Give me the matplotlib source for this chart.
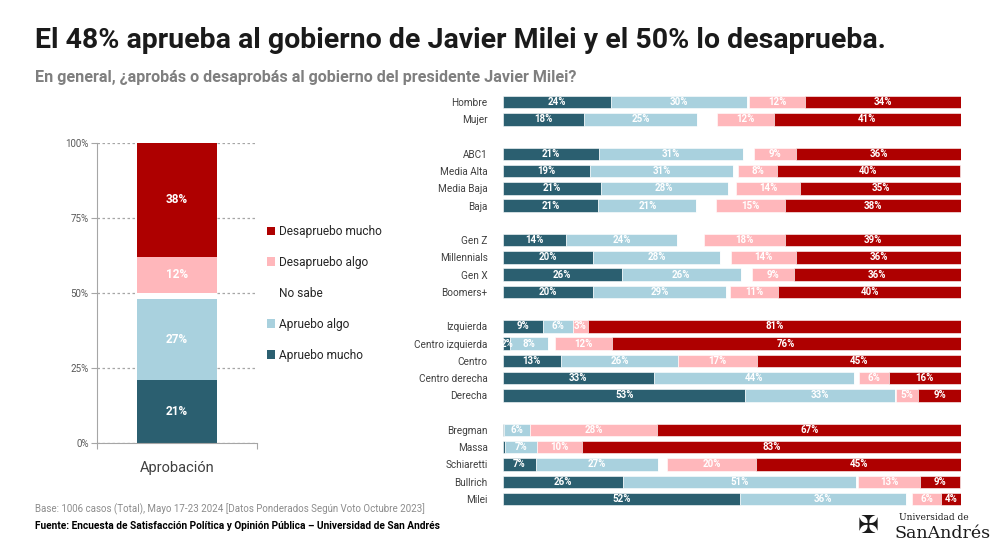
import matplotlib.pyplot as plt
import numpy as np

plt.rcParams['font.family'] = ['Roboto', 'DejaVu Sans']

# colours
C_AM = '#2b5f70'   # apruebo mucho
C_AA = '#a9d1de'   # apruebo algo
C_NS = '#ffffff'   # no sabe
C_DA = '#ffb7bb'   # desapruebo algo
C_DM = '#ae0000'   # desapruebo mucho

series = ['Apruebo mucho', 'Apruebo algo', 'No sabe', 'Desapruebo algo', 'Desapruebo mucho']
colors = [C_AM, C_AA, C_NS, C_DA, C_DM]

# total
total = [21, 27, 2, 12, 38]

# groups of rows (right chart)
groups = [
    ['Hombre', 'Mujer'],
    ['ABC1', 'Media Alta', 'Media Baja', 'Baja'],
    ['Gen Z', 'Millennials', 'Gen X', 'Boomers+'],
    ['Izquierda', 'Centro izquierda', 'Centro', 'Centro derecha', 'Derecha'],
    ['Bregman', 'Massa', 'Schiaretti', 'Bullrich', 'Milei'],
]
apruebo_mucho = [23.6, 17.7, 20.9, 19.0, 21.3, 20.8, 13.7, 19.7, 25.9, 19.6,
                 8.8, 1.6, 12.6, 32.9, 52.9, 0.3, 0.5, 7.1, 26.1, 51.7]
apruebo_algo = [29.6, 24.7, 31.4, 31.3, 27.8, 21.4, 24.3, 27.6, 26.0, 29.1,
                6.4, 8.2, 25.6, 43.8, 32.6, 5.6, 6.9, 26.7, 51.0, 36.4]
no_sabe = [0.6, 4.3, 2.4, 1.1, 1.8, 4.3, 5.9, 2.5, 2.5, 0.8,
           0.0, 1.6, 0.0, 1.1, 0.3, 0.0, 0.0, 1.9, 0.5, 1.2]
desapruebo_algo = [12.1, 12.4, 9.3, 8.4, 14.0, 15.0, 17.6, 14.2, 9.1, 10.6,
                   3.3, 12.3, 17.2, 6.4, 4.9, 27.8, 9.8, 19.6, 13.4, 6.3]
desapruebo_mucho = [34.2, 40.9, 36.0, 39.9, 35.1, 38.4, 38.6, 36.0, 36.4, 39.9,
                    81.4, 76.3, 44.7, 15.7, 9.4, 66.7, 82.8, 44.7, 8.8, 4.4]

fig = plt.figure(figsize=(10, 5.45), dpi=100)

fig.text(0.035, 0.926, 'El 48% aprueba al gobierno de Javier Milei y el 50% lo desaprueba.',
         fontsize=20.5, fontweight='bold', color='#1a1a1a', va='center')
fig.text(0.035, 0.857, 'En general, ¿aprobás o desaprobás al gobierno del presidente Javier Milei?',
         fontsize=11.6, fontweight='bold', color='#7f7f7f', va='center')

# ---- left: total stacked bar
ax1 = fig.add_axes([0.097, 0.1866, 0.16, 0.5516])
bottom = 0
for v, c, name in zip(total, colors, series):
    ax1.bar(0, v, width=1.0, bottom=bottom, color=c, label=name, zorder=2)
    if name != 'No sabe':
        ax1.text(0, bottom + v / 2, f'{v}%', ha='center', va='center',
                 color='white', fontsize=8.5, fontweight='bold', zorder=3)
    bottom += v
ax1.set_xlim(-1, 1)
ax1.set_ylim(0, 100)
ax1.set_yticks([0, 25, 50, 75, 100])
ax1.set_yticklabels(['0%', '25%', '50%', '75%', '100%'], fontsize=7, color='#595959')
ax1.yaxis.grid(True, linestyle=(0, (2, 2)), color='#a6a6a6', linewidth=0.9, zorder=1)
ax1.set_axisbelow(True)
ax1.set_xticks([-1, 1])
ax1.set_xticklabels(['', ''])
ax1.tick_params(axis='x', length=4, color='#a6a6a6')
ax1.tick_params(axis='y', length=4, color='#a6a6a6', pad=2)
for s in ['top', 'right']:
    ax1.spines[s].set_visible(False)
for s in ['left', 'bottom']:
    ax1.spines[s].set_color('#a6a6a6')
ax1.set_xlabel('Aprobación', fontsize=10.5, color='#404040', labelpad=5)

h, l = ax1.get_legend_handles_labels()
leg = fig.legend(h[::-1], l[::-1], loc='center left', bbox_to_anchor=(0.256, 0.462),
                 frameon=False, fontsize=8.6, handlelength=0.7, handleheight=0.7,
                 handletextpad=0.3, labelspacing=1.5, labelcolor='#262626')

# ---- right: segments
labels = []
ypos = []
row = 0
for g in groups:
    for name in g:
        labels.append(name)
        ypos.append(row)
        row += 1
    row += 1
ypos = np.array(ypos)

ax2 = fig.add_axes([0.503, 0.0686, 0.458, 0.760])
left = np.zeros(len(labels))
for vals, c, name in zip([apruebo_mucho, apruebo_algo, no_sabe, desapruebo_algo, desapruebo_mucho],
                         colors, series):
    vals = np.array(vals)
    ax2.barh(ypos, vals, left=left, height=0.72, color=c, edgecolor='white', linewidth=0.4)
    if name != 'No sabe':
        for y, lv, v in zip(ypos, left, vals):
            if v >= 1:
                ax2.text(lv + v / 2, y, f'{v:.0f}%', ha='center', va='center',
                         color='white', fontsize=7, fontweight='bold')
    left += vals
ax2.set_xlim(0, 100)
ax2.set_ylim(row - 1 - 0.5, -0.5)
ax2.set_yticks(ypos)
ax2.set_yticklabels(labels, fontsize=7.2, color='#404040')
ax2.tick_params(axis='y', length=0, pad=11)
ax2.set_xticks([])
for s in ax2.spines.values():
    s.set_visible(False)

# ---- footer
fig.text(0.035, 0.066, 'Base: 1006 casos (Total), Mayo 17-23 2024 [Datos Ponderados Según Voto Octubre 2023]',
         fontsize=7, color='#8c8c8c', va='center')
fig.text(0.035, 0.035, 'Fuente: Encuesta de Satisfacción Política y Opinión Pública – Universidad de San Andrés',
         fontsize=7.3, fontweight='bold', color='#000000', va='center')
fig.text(0.899, 0.051, 'Universidad de', fontsize=6.5, family='DejaVu Serif', color='#1a1a1a', va='center')
fig.text(0.895, 0.022, 'SanAndrés', fontsize=12.5, family='DejaVu Serif', color='#1a1a1a', va='center')
fig.text(0.868, 0.035, '✠', fontsize=18, family='DejaVu Sans', color='#1a1a1a', ha='center', va='center')

fig.savefig('out.png', dpi=100)
